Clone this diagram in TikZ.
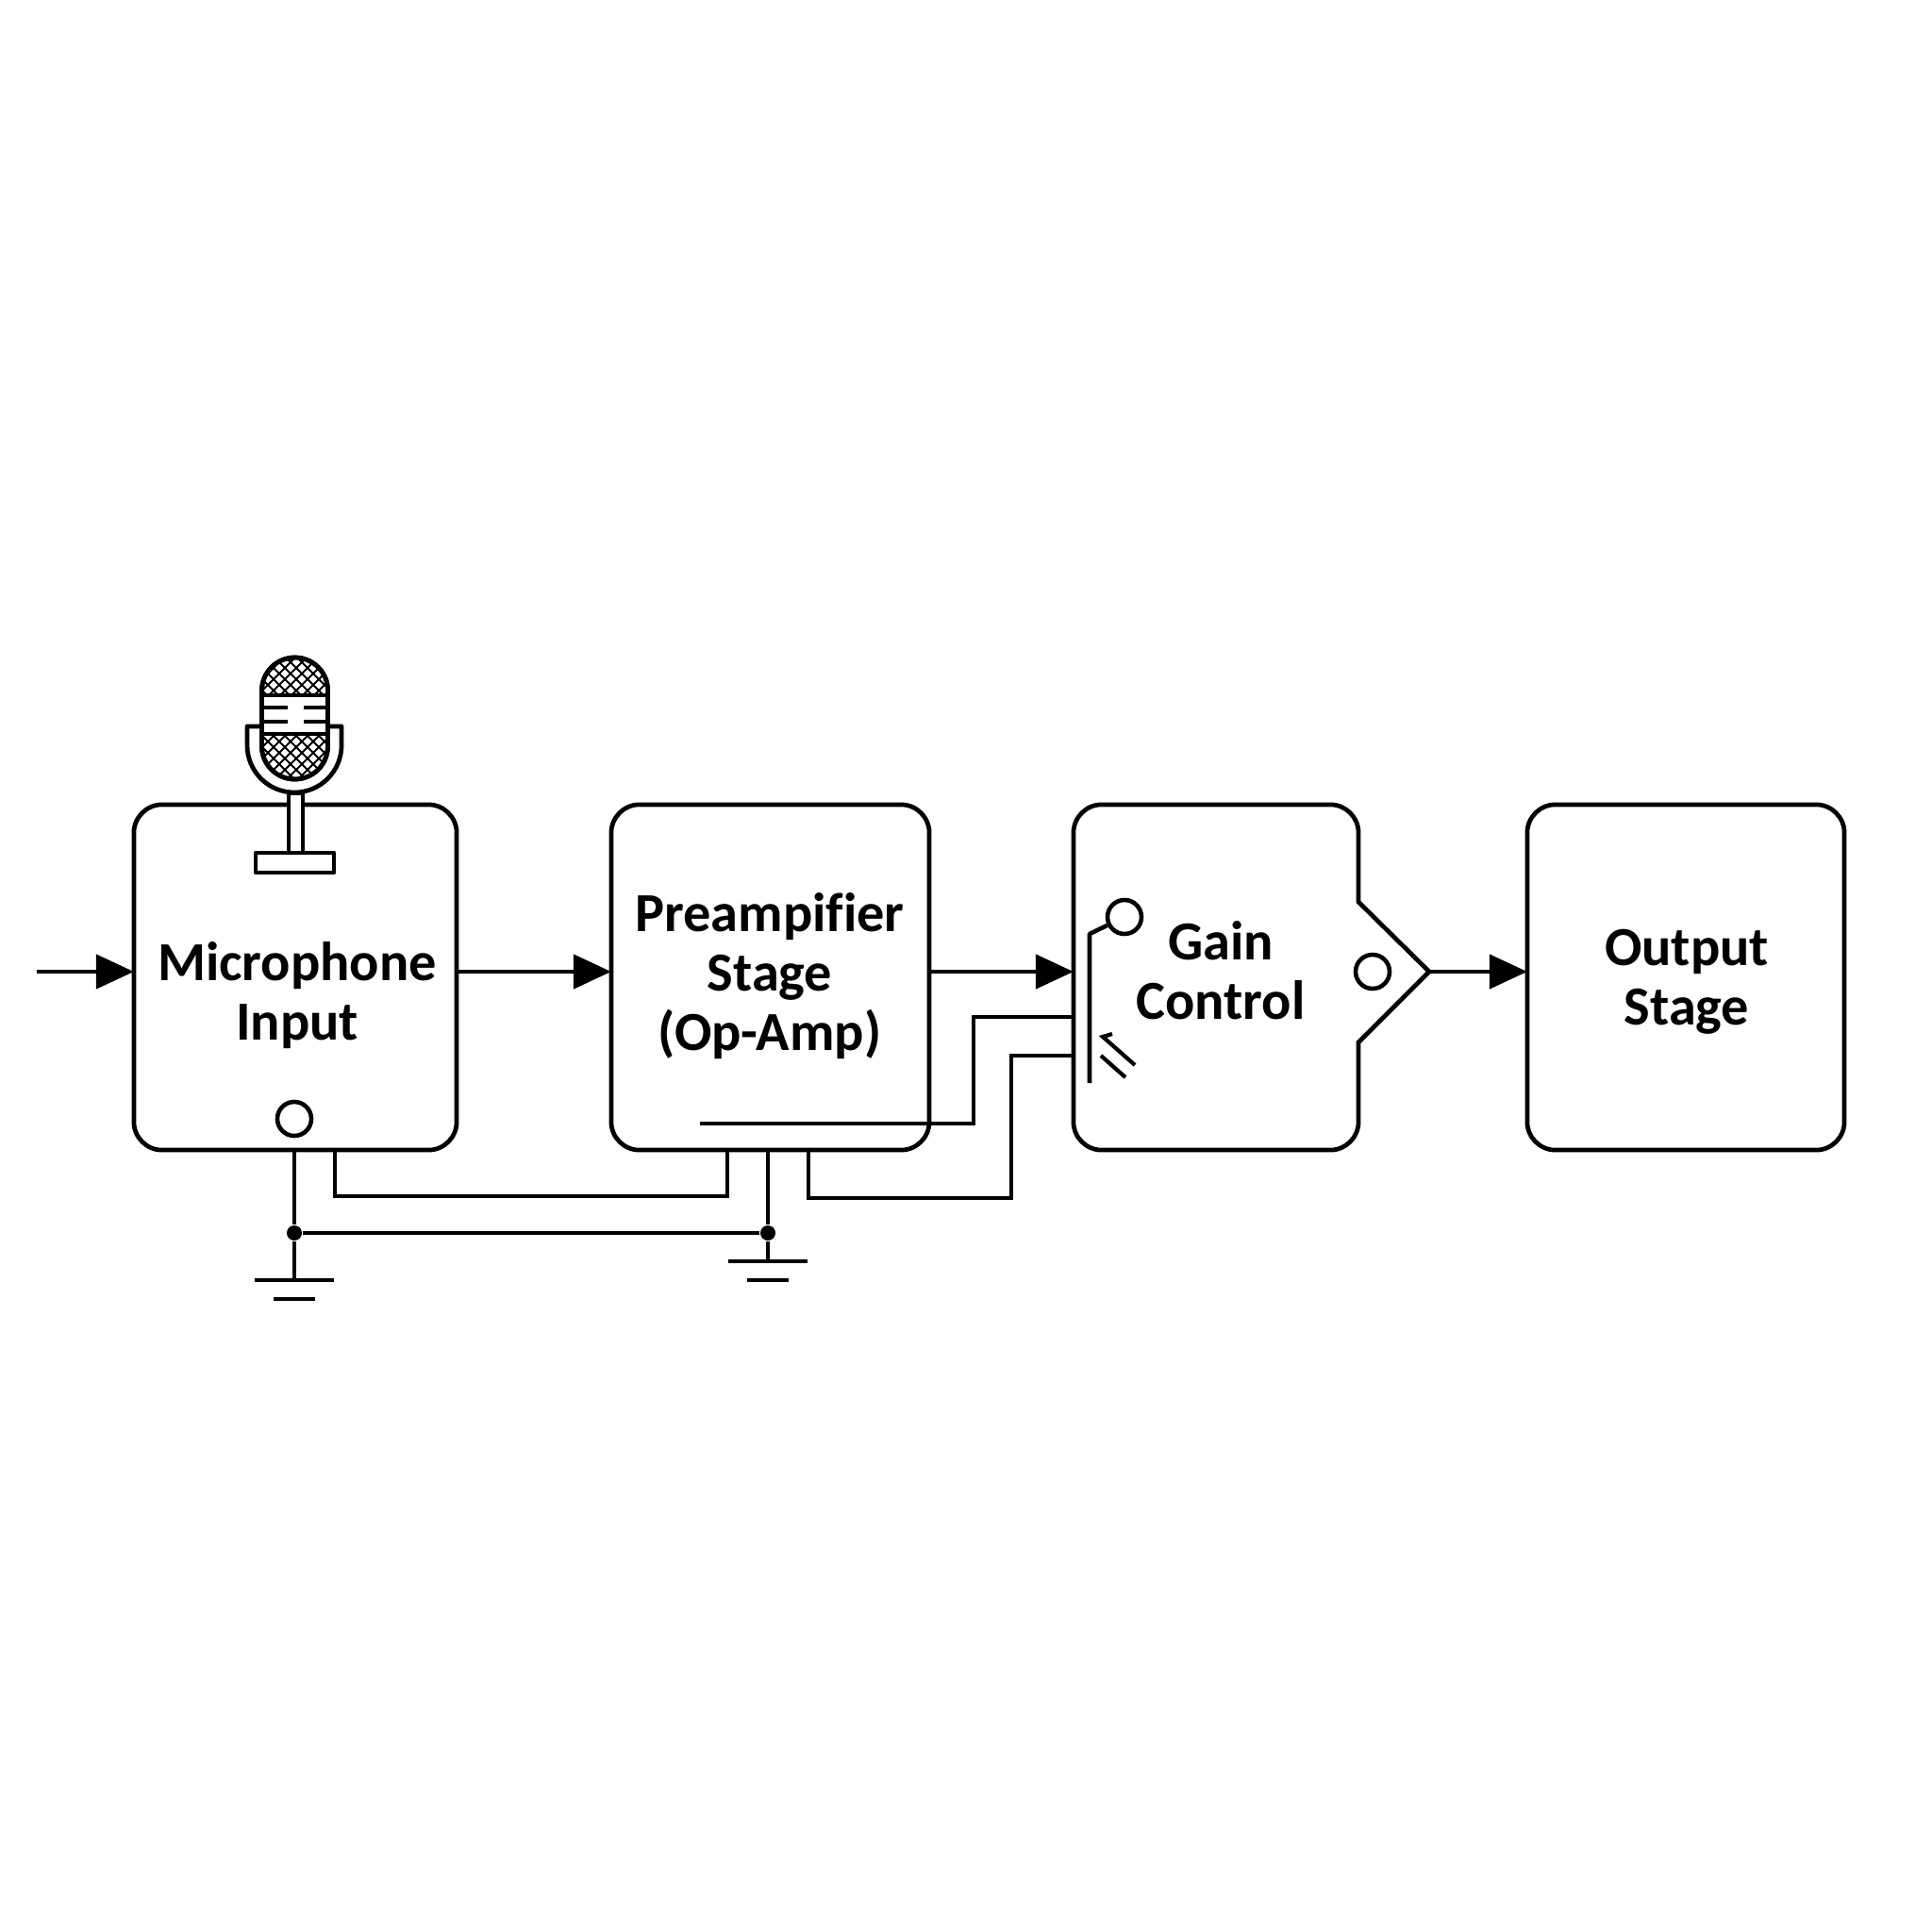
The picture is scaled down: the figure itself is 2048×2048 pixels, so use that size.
\documentclass[tikz,border=0pt]{standalone}
\usepackage{fontspec}
\setmainfont{Carlito}[Ligatures=NoCommon]
\usetikzlibrary{arrows.meta,positioning}
\tikzset{
  blockbox/.style={draw,rounded corners=3mm,outer sep=0pt,inner sep=0pt,minimum height=36.6mm,line width=1.35pt},
  gainshape/.style={outer sep=0pt,inner sep=0pt,minimum width=30.2mm,minimum height=36.6mm},
  blocklabel/.style={align=center,font=\fontsize{16.6}{17.9}\selectfont\bfseries,inner sep=0pt},
  ring/.style={circle,draw,minimum size=3.6mm,inner sep=0pt,line width=1.3pt},
  junction/.style={circle,fill=black,minimum size=1.6mm,inner sep=0pt},
  sigarrow/.style={line width=1.3pt,-{Triangle[length=4mm,width=3.6mm]}},
  wire/.style={line width=1.2pt,line join=miter},
  groundbar/.style={line width=1.4pt},
  every picture/.style={line cap=butt,line join=round}
}
\begin{document}
\begin{tikzpicture}[x=0.01cm,y=-0.01cm]
  \useasboundingbox (0,0) rectangle (2048,2048);
  \node[blockbox,minimum width=34.2mm] (micbox) at (313,1036) {};
  \node[blockbox,minimum width=33.7mm] (preampbox) at (816.5,1036) {};
  \node[gainshape] (gainbox) at (1289,1036) {};
  \node[blockbox,minimum width=33.6mm] (outputbox) at (1787,1036) {};
  \coordinate (gaintip) at (1515,1030);
  \draw[line width=1.35pt,line join=miter] (gaintip) -- (1440,956) [rounded corners=3mm] -- (gainbox.north east) -- (gainbox.north west)
    -- (gainbox.south west) -- (gainbox.south east) [sharp corners] -- (1440,1105) -- cycle;

  \node[blocklabel] (miclabel) at (315,1055) {Microphone\\Input};
  \node[blocklabel] (preamplabel) at (816,1035) {Preampifier\\Stage\\(Op-Amp)};
  \node[blocklabel] (gainlabel) at (1294,1029) {Gain\\Control};
  \node[blocklabel] (outputlabel) at (1788,1041) {Output\\Stage};

  \node[ring] (micring) at (312,1186) {};
  \node[ring] (gainring) at (1455,1030) {};
  \node[ring] (sensering) at (1192,972) {};

  \coordinate (sigin) at (39,1030);
  \draw[sigarrow] (sigin) -- (micbox.west |- sigin);
  \draw[sigarrow] (micbox.east |- sigin) -- (preampbox.west |- sigin);
  \draw[sigarrow] (preampbox.east |- sigin) -- (gainbox.west |- sigin);
  \draw[sigarrow] (gaintip) -- (outputbox.west |- gaintip);

  \coordinate (micout) at (355,1219);
  \coordinate (prein) at (771,1219);
  \coordinate (preout) at (857,1219);
  \coordinate (fbstart) at (742,1191);
  \coordinate (gaina) at (1138,1078);
  \coordinate (gainb) at (1138,1119);
  \draw[wire] (micout) -- (355,1268) -- (771,1268) -- (prein);
  \draw[wire] (preout) -- (857,1270) -- (1072,1270) -- (1072,1119) -- (gainb);
  \draw[wire] (fbstart) -- (1032,1191) -- (1032,1078) -- (gaina);

  \node[junction] (gnddota) at (312,1307) {};
  \node[junction] (gnddotb) at (814,1307) {};
  \coordinate (gnda) at (312,1357);
  \coordinate (gndb) at (814,1337);
  \draw[wire] (gnddota |- micbox.south) -- (gnddota) -- (gnda);
  \draw[wire] (gnddotb |- preampbox.south) -- (gnddotb) -- (gndb);
  \draw[groundbar] (gnddota) -- (gnddotb);
  \draw[groundbar] ([xshift=-4.2mm]gnda) -- ([xshift=4.2mm]gnda);
  \draw[groundbar] ([xshift=-2.2mm,yshift=-2mm]gnda) -- ([xshift=2.2mm,yshift=-2mm]gnda);
  \draw[groundbar] ([xshift=-4.2mm]gndb) -- ([xshift=4.2mm]gndb);
  \draw[groundbar] ([xshift=-2.2mm,yshift=-2mm]gndb) -- ([xshift=2.2mm,yshift=-2mm]gndb);

  \draw[line width=1.3pt] (1155,1148) -- (1155,990) -- (sensering);
  \draw[wire] (1179,1096) -- (1169,1099) -- (1203,1129);
  \draw[wire] (1167,1119) -- (1193,1142);

  \draw[line width=1.35pt,fill=white] (277,770) -- (262,770) -- (262,790) arc[start angle=180,end angle=360,radius=5mm] -- (362,770) -- (347,770);
  \draw[line width=1.35pt,fill=white] (277.5,732) arc[start angle=180,end angle=0,radius=3.5mm] -- (347.5,791) arc[start angle=0,end angle=-180,radius=3.5mm] -- cycle;
  \begin{scope}
    \clip (277.5,732) arc[start angle=180,end angle=0,radius=3.5mm] -- (347.5,791) arc[start angle=0,end angle=-180,radius=3.5mm] -- cycle;
    \foreach \k in {-10,-9,...,24} {
      \draw[line width=0.55pt] (200+12*\k,690) -- (340+12*\k,830);
      \draw[line width=0.55pt] (260+12*\k,690) -- (120+12*\k,830);
    }
    \fill[white] (270,737) rectangle (355,778);
  \end{scope}
  \draw[line width=1.35pt] (277.5,732) arc[start angle=180,end angle=0,radius=3.5mm] -- (347.5,791) arc[start angle=0,end angle=-180,radius=3.5mm] -- cycle;
  \draw[line width=1.35pt] (277.5,737) -- (347.5,737);
  \draw[line width=1.35pt] (277.5,778) -- (347.5,778);
  \foreach \y in {750,765} {
    \draw[line width=1.2pt] (280,\y) -- (305,\y);
    \draw[line width=1.2pt] (322,\y) -- (345,\y);
  }
  \draw[line width=1.2pt,fill=white] (306,904) -- (306,841) -- (321,841) -- (321,904);
  \draw[line width=1.35pt,fill=white] (271,904) rectangle (354,925);
\end{tikzpicture}
\end{document}
